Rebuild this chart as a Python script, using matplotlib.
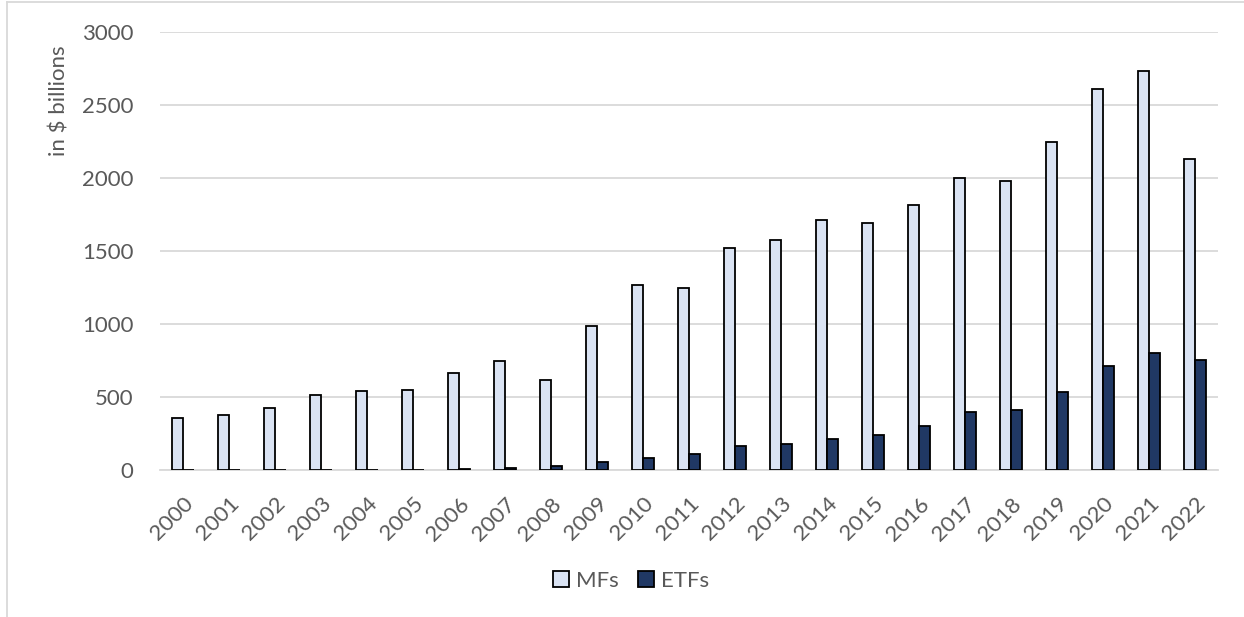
import matplotlib.pyplot as plt
import numpy as np

years = [str(y) for y in range(2000, 2023)]
mfs = [360, 378, 425, 516, 541, 548, 664, 746, 614, 990, 1265, 1245, 1520,
       1575, 1712, 1695, 1818, 1998, 1982, 2245, 2610, 2735, 2130]
etfs = [0, 0, 2, 3, 3, 4, 6, 12, 26, 57, 80, 112, 164,
        178, 215, 242, 301, 395, 413, 534, 710, 801, 753]

plt.rcParams['font.family'] = ['Lato', 'DejaVu Sans']
gray = '#595959'
fs = 16

fig = plt.figure(figsize=(12.44, 6.17), dpi=100)
ax = fig.add_axes([0.1286, 0.238, 0.979 - 0.1286, 0.948 - 0.238])

x = np.arange(len(years))
w = 0.24
ax.bar(x - w / 2, mfs, w, color='#DAE3F3', edgecolor='black', linewidth=1.3,
       label='MFs', zorder=3)
ax.bar(x + w / 2, etfs, w, color='#203864', edgecolor='black', linewidth=1.3,
       label='ETFs', zorder=3)

ax.set_xlim(-0.5, len(years) - 0.5)
ax.set_ylim(0, 3000)
ax.set_yticks(range(0, 3001, 500))
ax.set_xticks(x)
ax.set_xticklabels(years, rotation=45, ha='right', rotation_mode='anchor')
ax.grid(axis='y', color='#D9D9D9', linewidth=1.3, zorder=0)
for s in ['top', 'right', 'left']:
    ax.spines[s].set_visible(False)
ax.spines['bottom'].set_color('#D9D9D9')
ax.spines['bottom'].set_linewidth(1.3)
ax.tick_params(axis='both', length=0, labelcolor=gray, labelsize=fs)
ax.tick_params(axis='y', pad=19)
ax.tick_params(axis='x', pad=17)

fig.text(60 / 1244, 1 - 101 / 617, 'in $ billions', rotation=90, ha='center',
         va='center', color=gray, fontsize=fs)

leg = fig.legend(loc='center', bbox_to_anchor=(631 / 1244, 1 - 581 / 617),
                 ncol=2, frameon=False, fontsize=fs, handlelength=0.7,
                 handleheight=0.7, handletextpad=0.3, columnspacing=0.9)
for t in leg.get_texts():
    t.set_color(gray)

# light frame around the chart area
fig.add_artist(plt.Line2D([7 / 1244, 7 / 1244], [0, 1 - 2 / 617],
                          color='#D9D9D9', linewidth=1.3))
fig.add_artist(plt.Line2D([7 / 1244, 1], [1 - 2 / 617, 1 - 2 / 617],
                          color='#D9D9D9', linewidth=1.3))

fig.savefig('out.png', dpi=100)
